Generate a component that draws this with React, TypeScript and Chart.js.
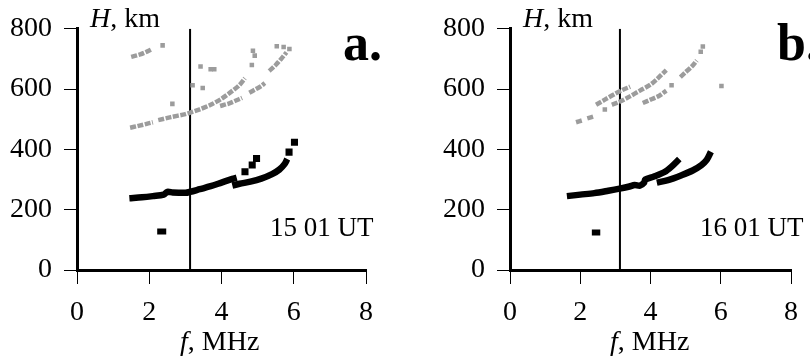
import React, { useEffect, useRef } from "react";
import { Chart, registerables } from "chart.js";
Chart.register(...registerables);

type P = [number, number];

// axes
const X_MIN = 0, X_MAX = 8, X_STEP = 2;
const Y_MIN = 0, Y_MAX = 800, Y_STEP = 200;
const VLINE_F = 3.13;

// ---------- panel a (15 01 UT) ----------
const A_BLACK_1: P[] = [[1.45,238],[1.8,241],[2.1,245],[2.4,250],[2.5,259],[2.65,257],[3.0,256],[3.13,259],[3.4,268],[3.7,278],[4.0,290],[4.3,302],[4.42,306]];
const A_BLACK_2: P[] = [[4.3,280],[4.5,286],[4.8,293],[5.1,303],[5.4,318],[5.6,333],[5.75,352],[5.82,368]];
const A_BLACK_PTS: P[] = [[4.65,326],[4.85,348],[4.97,370],[5.87,391],[6.02,424]];
const A_BLACK_ISO: P[] = [[2.22,128],[2.47,128]];
const A_GRAY_1: P[] = [[1.47,472],[1.7,478],[2.0,487],[2.1,490]];
const A_GRAY_2: P[] = [[2.25,497],[2.6,507],[3.0,517],[3.13,522],[3.4,533],[3.7,548],[4.0,568],[4.3,594],[4.5,614],[4.65,636]];
const A_GRAY_3: P[] = [[3.96,544],[4.2,552],[4.4,562],[4.57,571]];
const A_GRAY_4: P[] = [[4.77,588],[4.95,600],[5.1,610],[5.2,620]];
const A_GRAY_5: P[] = [[5.32,660],[5.5,680],[5.65,700],[5.8,722]];
const A_GRAY_6: P[] = [[1.5,707],[1.75,715],[1.95,725],[2.08,733]];
const A_GRAY_PTS: P[] = [[2.37,745],[5.53,742],[5.72,740],[5.88,733],[3.42,675],[3.7,666],[3.8,666],[3.2,613],[3.48,604],[2.64,551],[4.87,727],[4.92,711],[4.84,680]];

// ---------- panel b (16 01 UT) ----------
const B_BLACK_1: P[] = [[1.62,245],[2.0,250],[2.4,255],[2.8,263],[3.12,270],[3.4,277],[3.55,282],[3.7,280],[3.82,290],[3.85,300],[4.1,310],[4.4,325],[4.6,343],[4.82,368]];
const B_BLACK_2: P[] = [[4.18,290],[4.5,298],[4.9,315],[5.2,330],[5.45,348],[5.6,365],[5.72,392]];
const B_BLACK_ISO: P[] = [[2.33,124],[2.57,124]];
const B_GRAY_1: P[] = [[1.88,490],[2.05,496]];
const B_GRAY_2: P[] = [[2.2,503],[2.4,510]];
const B_GRAY_3: P[] = [[2.45,548],[2.7,565],[3.0,585],[3.2,597],[3.42,608]];
const B_GRAY_4: P[] = [[2.9,548],[3.1,557],[3.4,575],[3.7,595],[4.0,615],[4.2,635],[4.45,663]];
const B_GRAY_5: P[] = [[3.78,554],[4.0,565],[4.25,578],[4.45,595]];
const B_GRAY_6: P[] = [[4.85,640],[5.0,656],[5.2,678],[5.32,695]];
const B_GRAY_PTS: P[] = [[5.43,724],[5.49,741],[6.02,610],[2.7,532],[4.6,613]];

const FONT = "'Liberation Serif', 'Times New Roman', serif";
const GRAY = "#9c9c9c";

const toXY = (arr: P[]) => arr.map(([x, y]) => ({ x, y }));

function lineDs(arr: P[], color: string, width: number, dash: number[] = []) {
  return {
    type: "line" as const,
    data: toXY(arr),
    showLine: true,
    borderColor: color,
    backgroundColor: color,
    borderWidth: width,
    borderDash: dash,
    pointRadius: 0,
    tension: 0.3,
    borderCapStyle: "butt" as const,
    borderJoinStyle: "round" as const,
  };
}
function ptsDs(arr: P[], color: string, r: number, style: string) {
  return {
    type: "scatter" as const,
    data: toXY(arr),
    showLine: false,
    pointStyle: style,
    pointRadius: r,
    borderWidth: 0,
    backgroundColor: color,
    borderColor: color,
  };
}

type Part = { text: string; style: string };
type TextItem = { x: number; y: number; size: number; parts: Part[] };

const textPlugin = {
  id: "panelText",
  afterDatasetsDraw(chart: any, _args: any, opts: any) {
    const ctx = chart.ctx as CanvasRenderingContext2D;
    ctx.save();
    ctx.fillStyle = "#000";
    ctx.textBaseline = "alphabetic";
    ctx.textAlign = "left";
    for (const it of (opts.items || []) as TextItem[]) {
      let x = it.x;
      for (const p of it.parts) {
        ctx.font = `${p.style} ${it.size}px ${FONT}`;
        ctx.fillText(p.text, x, it.y);
        x += ctx.measureText(p.text).width;
      }
    }
    ctx.restore();
  },
};

function makeConfig(
  blacks: P[][],
  blackPts: P[],
  iso: P[],
  grays: P[][],
  grayPts: P[],
  pad: { left: number; right: number },
  yWidth: number,
  texts: TextItem[]
) {
  const datasets: any[] = [];
  for (const g of grays) datasets.push(lineDs(g, GRAY, 4.5, [6, 1.5]));
  datasets.push(ptsDs(grayPts, GRAY, 3.2, "rect"));
  datasets.push(lineDs([[VLINE_F, Y_MIN], [VLINE_F, Y_MAX]], "#000", 2));
  for (const b of blacks) datasets.push(lineDs(b, "#000", 6.5));
  datasets.push(ptsDs(blackPts, "#000", 5, "rect"));
  datasets.push({ ...lineDs(iso, "#000", 6), tension: 0 });
  return {
    type: "scatter" as const,
    data: { datasets },
    options: {
      animation: false as const,
      responsive: false,
      events: [],
      layout: { padding: { left: pad.left, right: pad.right, top: 25, bottom: 0 } },
      plugins: {
        legend: { display: false },
        tooltip: { enabled: false },
        panelText: { items: texts },
      },
      scales: {
        x: {
          type: "linear" as const,
          min: X_MIN,
          max: X_MAX,
          afterFit: (s: any) => { s.height = 88; },
          ticks: { stepSize: X_STEP, color: "#000", padding: 12, font: { family: FONT, size: 28 } },
          grid: { drawOnChartArea: false, drawTicks: true, tickLength: 14, color: "#000", lineWidth: 1 },
          border: { display: true, color: "#000", width: 3 },
        },
        y: {
          type: "linear" as const,
          min: Y_MIN,
          max: Y_MAX,
          afterFit: (s: any) => { s.width = yWidth; },
          ticks: { stepSize: Y_STEP, color: "#000", padding: 12, font: { family: FONT, size: 28 } },
          grid: { drawOnChartArea: false, drawTicks: true, tickLength: 13, color: "#000", lineWidth: 1 },
          border: { display: true, color: "#000", width: 3 },
        },
      },
    },
    plugins: [textPlugin],
  };
}

function Panel({ left, config }: { left: number; config: any }) {
  const ref = useRef<HTMLCanvasElement | null>(null);
  useEffect(() => {
    if (!ref.current) return;
    const chart = new Chart(ref.current, config);
    return () => chart.destroy();
  }, []);
  return (
    <canvas
      ref={ref}
      width={405}
      height={358}
      style={{ position: "absolute", left, top: 0, width: 405, height: 358, display: "block" }}
    />
  );
}

export default function App() {
  const cfgA = makeConfig(
    [A_BLACK_1, A_BLACK_2],
    A_BLACK_PTS,
    A_BLACK_ISO,
    [A_GRAY_1, A_GRAY_2, A_GRAY_3, A_GRAY_4, A_GRAY_5, A_GRAY_6],
    A_GRAY_PTS,
    { left: 0, right: 39 },
    77,
    [
      { x: 90, y: 27, size: 28, parts: [{ text: "H", style: "italic" }, { text: ", km", style: "normal" }] },
      { x: 180, y: 350, size: 28, parts: [{ text: "f", style: "italic" }, { text: ", MHz", style: "normal" }] },
      { x: 343, y: 60, size: 52, parts: [{ text: "a.", style: "bold" }] },
      { x: 270, y: 236, size: 27, parts: [{ text: "15 01 UT", style: "normal" }] },
    ]
  );
  const cfgB = makeConfig(
    [B_BLACK_1, B_BLACK_2],
    [],
    B_BLACK_ISO,
    [B_GRAY_1, B_GRAY_2, B_GRAY_3, B_GRAY_4, B_GRAY_5, B_GRAY_6],
    B_GRAY_PTS,
    { left: 0, right: 13 },
    105,
    [
      { x: 118, y: 27, size: 28, parts: [{ text: "H", style: "italic" }, { text: ", km", style: "normal" }] },
      { x: 205, y: 350, size: 28, parts: [{ text: "f", style: "italic" }, { text: ", MHz", style: "normal" }] },
      { x: 372, y: 60, size: 52, parts: [{ text: "b.", style: "bold" }] },
      { x: 295, y: 236, size: 27, parts: [{ text: "16 01 UT", style: "normal" }] },
    ]
  );
  return (
    <div style={{ position: "fixed", left: 0, top: 0, width: 810, height: 358, background: "#fff", overflow: "hidden" }}>
      <Panel left={0} config={cfgA} />
      <Panel left={405} config={cfgB} />
    </div>
  );
}
